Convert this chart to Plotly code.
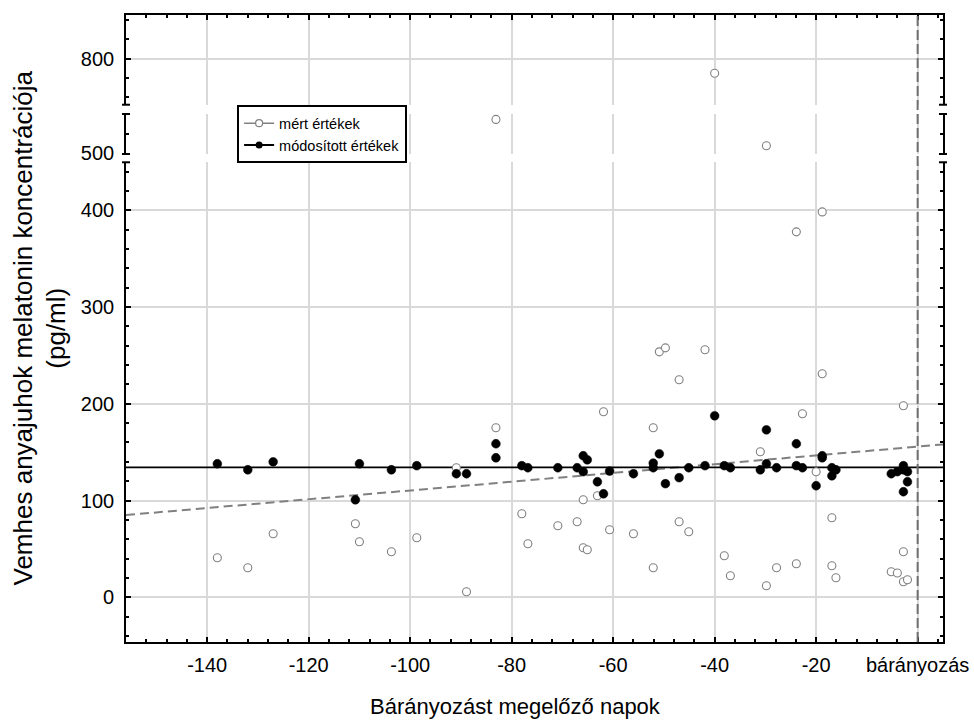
import plotly.graph_objects as go

# ---------------- data ----------------
measured_days = [-138, -132, -127, -110.8, -110, -103.7, -98.7, -90.9, -88.9, -83.1, -83.1,
                 -78, -76.8, -70.9, -67.1, -65.9, -65.9, -65.1, -63.1, -61.9, -60.7, -56,
                 -52.1, -52.1, -50.9, -49.7, -47, -47, -45.1, -41.9, -40, -38.1, -36.9, -31,
                 -29.8, -29.8, -27.8, -23.9, -23.9, -22.7, -20, -18.8, -18.8, -16.9, -16.9,
                 -16.1, -5.2, -4, -2.8, -2.8, -2.8, -2]
measured_values = [40.9, 30.6, 65.7, 76, 57.4, 47.1, 61.6, 133.9, 5.8, 175.2, 535,
                   86.4, 55.4, 74, 78.1, 100.8, 51.2, 49.2, 105, 191.7, 69.8, 65.7,
                   175.2, 30.6, 253.7, 257.8, 224.8, 78.1, 67.8, 255.8, 785, 43, 22.3, 150.4,
                   507.8, 12, 30.6, 377.7, 34.7, 189.7, 129.8, 398.3, 231, 82.2, 32.6,
                   20.2, 26.4, 25.1, 197.9, 47.1, 16.1, 18.2]

modified_days = [-138, -132, -127, -110.8, -110, -103.7, -98.7, -90.9, -88.9, -83.1, -83.1,
                 -78, -76.8, -70.9, -67.1, -65.9, -65.1, -65.9, -63.1, -61.9, -60.7, -56,
                 -52.1, -52.1, -50.9, -49.7, -47, -45.1, -41.9, -40, -38.1, -36.9, -31,
                 -29.8, -29.8, -27.8, -23.9, -23.9, -22.7, -20, -18.8, -18.8, -16.9, -16.9,
                 -16.1, -5.2, -4, -2.8, -2.8, -2.8, -2, -2]
modified_values = [138, 131.8, 140, 100.8, 138, 131.8, 136, 127.7, 127.7, 158.7, 144.2,
                   136, 133.9, 133.9, 133.9, 146.3, 142.1, 129.8, 119.4, 107, 130.5, 127.7,
                   138.7, 133.9, 148.3, 117.4, 123.6, 133.9, 136, 187.6, 136, 133.9, 131.8,
                   173.1, 138, 133.9, 158.7, 136, 133.9, 115.3, 146.3, 144.2, 133.9, 125.6,
                   131.8, 127.7, 129.8, 136, 131.8, 109.1, 129.8, 119.4]

trend_days = [-156, 5]
trend_values = [85, 158]
mean_level = 134.3
lambing_day = 0

x_tick_vals = [-140, -120, -100, -80, -60, -40, -20, 0]
x_tick_text = ["-140", "-120", "-100", "-80", "-60", "-40", "-20", "bárányozás"]
x_range = [-156, 5]

# three y segments (broken axis)
seg_ranges = [[-46.2, 449.6], [499.3, 540.6], [752.5, 845.2]]
seg_ticks = [[0, 100, 200, 300, 400], [500], [800]]
seg_domains = [[0.0, 0.7651], [0.7783, 0.8421], [0.8569, 1.0]]

legend_labels = ["mért értékek", "módosított értékek"]
x_title = "Bárányozást megelőző napok"
y_title = "Vemhes anyajuhok melatonin koncentrációja<br>(pg/ml)"

FONT = "Liberation Sans, Arial, sans-serif"
GRID = "#d9d9d9"
GRAY = "#808080"

fig = go.Figure()

axis_names = [("x", "y"), ("x2", "y2"), ("x3", "y3")]

# trend line (main segment only)
fig.add_trace(go.Scatter(x=trend_days, y=trend_values, mode="lines",
                         line=dict(color=GRAY, width=2, dash="9px,5px"),
                         xaxis="x", yaxis="y", showlegend=False, hoverinfo="skip"))
# mean level of the modified values
fig.add_trace(go.Scatter(x=x_range, y=[mean_level, mean_level], mode="lines",
                         line=dict(color="black", width=1.6),
                         xaxis="x", yaxis="y", showlegend=False, hoverinfo="skip"))

for (xa, ya), rng in zip(axis_names, seg_ranges):
    md = [d for d, v in zip(measured_days, measured_values) if rng[0] <= v <= rng[1]]
    mv = [v for v in measured_values if rng[0] <= v <= rng[1]]
    if md:
        fig.add_trace(go.Scatter(x=md, y=mv, mode="markers",
                                 marker=dict(symbol="circle", size=8, color="white",
                                             line=dict(color=GRAY, width=1.1)),
                                 xaxis=xa, yaxis=ya, showlegend=False))
    fd = [d for d, v in zip(modified_days, modified_values) if rng[0] <= v <= rng[1]]
    fv = [v for v in modified_values if rng[0] <= v <= rng[1]]
    if fd:
        fig.add_trace(go.Scatter(x=fd, y=fv, mode="markers",
                                 marker=dict(symbol="circle", size=8.8, color="black",
                                             line=dict(color="black", width=0.5)),
                                 xaxis=xa, yaxis=ya, showlegend=False))

# legend-only entries
fig.add_trace(go.Scatter(x=[None], y=[None], mode="lines+markers", name=legend_labels[0],
                         line=dict(color=GRAY, width=1.5),
                         marker=dict(symbol="circle", size=7, color="white",
                                     line=dict(color=GRAY, width=1.2))))
fig.add_trace(go.Scatter(x=[None], y=[None], mode="lines+markers", name=legend_labels[1],
                         line=dict(color="black", width=2),
                         marker=dict(symbol="circle", size=7, color="black")))

tickfont = dict(family=FONT, size=20, color="black")

common_y = dict(showline=True, linecolor="black", linewidth=1.6, mirror="ticks",
                ticks="inside", ticklen=5, tickwidth=1.5, tickcolor="black",
                showgrid=True, gridcolor=GRID, gridwidth=1.5, zeroline=False,
                tickfont=tickfont, ticklabelstandoff=6, automargin=False,
                minor=dict(dtick=20, tick0=0, ticks="inside", ticklen=3,
                           tickwidth=1.5, tickcolor="black", showgrid=False))

layout = dict(
    width=974, height=720, autosize=False,
    margin=dict(l=126, r=31, t=15, b=78, autoexpand=False),
    paper_bgcolor="white", plot_bgcolor="white",
    font=dict(family=FONT, color="black"),
    showlegend=True,
    legend=dict(x=0.136, y=0.856, xanchor="left", yanchor="top",
                bgcolor="white", bordercolor="black", borderwidth=2,
                font=dict(family=FONT, size=14.5, color="black"),
                tracegroupgap=0),
)

for i, (rng, tv, dom) in enumerate(zip(seg_ranges, seg_ticks, seg_domains)):
    suffix = "" if i == 0 else str(i + 1)
    yax = dict(common_y)
    yax.update(range=rng, domain=dom, tickmode="array", tickvals=tv,
               anchor="x" + suffix)
    layout["yaxis" + suffix] = yax

    xax = dict(range=x_range, tickmode="array", tickvals=x_tick_vals,
               showgrid=True, gridcolor=GRID, gridwidth=1.5, zeroline=False,
               anchor="y" + suffix, automargin=False)
    if i == 0:
        xax.update(showline=True, linecolor="black", linewidth=1.6,
                   ticks="inside", ticklen=5, tickwidth=1.5, tickcolor="black",
                   ticktext=x_tick_text, tickfont=tickfont, ticklabelstandoff=4,
                   minor=dict(dtick=4, tick0=0, ticks="inside", ticklen=3,
                              tickwidth=1.5, tickcolor="black", showgrid=False))
    elif i == 1:
        xax.update(showline=False, ticks="", showticklabels=False, matches="x")
    else:
        xax.update(showline=True, linecolor="black", linewidth=1.6, side="top",
                   ticks="inside", ticklen=5, tickwidth=1.5, tickcolor="black",
                   showticklabels=False, matches="x",
                   minor=dict(dtick=4, tick0=0, ticks="inside", ticklen=3,
                              tickwidth=1.5, tickcolor="black", showgrid=False))
    layout["xaxis" + suffix] = xax

fig.update_layout(**layout)

shapes = []
# lambing day dashed vertical line across the whole plot
shapes.append(dict(type="line", xref="x", yref="paper", x0=lambing_day, x1=lambing_day,
                   y0=0, y1=1, layer="above",
                   line=dict(color="#707070", width=2, dash="10px,4px")))
# break caps on left and right axes
cap = 4.0 / 817
for yb in [seg_domains[0][1], seg_domains[1][0], seg_domains[1][1], seg_domains[2][0]]:
    for xc in (0, 1):
        shapes.append(dict(type="line", xref="paper", yref="paper",
                           x0=xc - cap, x1=xc + cap, y0=yb, y1=yb,
                           line=dict(color="black", width=2)))
fig.update_layout(shapes=shapes)

fig.add_annotation(text=x_title, xref="paper", yref="paper", x=0.4768, y=0,
                   xanchor="center", yanchor="middle", yshift=-64, showarrow=False,
                   font=dict(family=FONT, size=22, color="black"))
fig.add_annotation(text=y_title, xref="paper", yref="paper", x=0, y=0.5,
                   xanchor="center", yanchor="middle", xshift=-87, showarrow=False,
                   textangle=-90, font=dict(family=FONT, size=26, color="black"))

fig.write_html("out.html",
               config={"displayModeBar": False},
               post_script="document.body.style.margin='0';document.body.style.padding='0';")
